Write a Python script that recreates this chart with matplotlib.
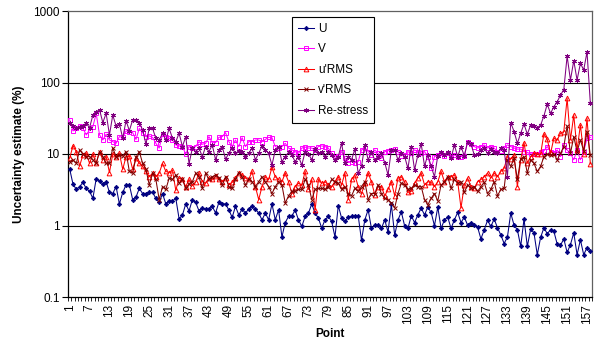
import numpy as np
import matplotlib
matplotlib.use("Agg")
import matplotlib.pyplot as plt
from matplotlib.ticker import FixedLocator, NullLocator, NullFormatter

plt.rcParams['font.family'] = ['Liberation Sans', 'DejaVu Sans']

# Uncertainty estimates (%) per measurement point
u_mean = [6.2, 3.8, 3.2, 3.5, 4.0, 3.3, 3.0, 2.4, 4.5, 4.2, 3.8, 4.1, 2.9, 2.8, 3.5, 2.0, 2.9, 3.7, 3.7, 2.3,
          2.5, 3.3, 2.8, 2.8, 2.9, 2.9, 2.4, 2.1, 2.8, 2.0, 2.2, 2.2, 2.4, 1.24, 1.4, 2.0, 1.6, 2.3, 2.1, 1.6,
          1.75, 1.7, 1.7, 1.85, 1.5, 2.1, 2.0, 2.0, 1.65, 1.3, 1.85, 1.4,
          1.7, 1.49, 1.7, 1.85, 1.7, 1.49, 1.2, 1.49, 1.2, 2.0, 1.2, 1.66, 0.69, 1.1, 1.34, 1.37, 1.63, 1.2,
          0.97, 1.34, 1.49, 2.0, 1.49, 1.27, 0.92, 1.2, 1.34, 1.14, 0.69, 1.9, 1.27, 1.14, 1.31, 1.34, 1.37, 1.37,
          0.62, 1.2, 1.66, 0.91, 1.01, 1.01, 0.91, 1.2, 0.81, 1.97, 0.73, 1.2,
          1.55, 0.99, 0.91, 1.37, 1.1, 1.41, 1.75, 1.41, 1.81, 1.52, 0.99, 1.81, 0.91, 1.2, 1.31, 0.91, 1.2, 1.52,
          1.1, 1.31, 1.01, 1.1, 1.01, 0.95, 0.65, 0.87, 1.18, 0.97, 1.23, 0.93, 0.74, 0.56, 0.69, 1.49, 1.01, 0.87,
          0.51, 1.23, 0.51, 0.89, 0.79, 0.39, 0.68, 0.93, 0.77, 0.87, 0.83, 0.55, 0.53, 0.65, 0.42, 0.54, 0.79, 0.39,
          0.63, 0.39, 0.49, 0.44]

v_mean = [29.9, 21.0, 22.8, 24.6, 22.8, 18.5, 21.7, 24.1, 37.0, 18.5, 15.7, 18.9, 15.7, 14.9, 14.1, 17.5, 17.1, 21.0,
          20.6, 19.9, 16.0, 22.8, 19.9, 17.5, 17.9, 17.1, 14.1, 12.1, 18.9, 17.5, 16.6, 15.7, 13.4, 13.0, 12.7, 10.0,
          12.7, 12.1, 12.7, 14.9, 13.7, 14.1, 17.5, 14.4, 14.4, 17.1, 17.5, 19.9, 14.9, 12.7, 15.7, 12.7,
          16.9, 12.7, 14.9, 14.9, 15.7, 15.7, 14.9, 16.0, 17.1, 16.9, 12.7, 12.1, 12.7, 14.1, 12.1, 11.4, 10.8, 10.2,
          12.1, 12.5, 12.1, 12.1, 11.4, 12.7, 13.0, 12.7, 12.1, 10.2, 9.0, 9.4, 10.8, 8.7, 7.6, 7.8, 7.6, 7.8,
          11.4, 12.1, 10.8, 9.7, 11.4, 10.2, 8.7, 10.8, 11.1, 11.4, 11.7, 10.8,
          9.4, 9.7, 10.8, 10.2, 11.4, 10.8, 10.2, 10.8, 9.2, 6.3, 9.2, 9.7, 10.2, 9.4, 10.2, 9.2, 9.7, 9.2,
          9.2, 9.4, 14.9, 13.8, 12.7, 12.1, 12.7, 13.4, 12.1, 12.7, 12.1, 10.8, 11.1, 12.1, 13.4, 12.7, 12.1, 11.7,
          11.7, 10.8, 10.5, 10.0, 10.0, 10.0, 10.8, 11.1, 12.7, 10.8, 10.2, 11.4, 9.2, 13.4, 11.4, 10.2, 8.3, 11.4,
          8.3, 10.8, 16.6, 17.1]

u_rms = [8.7, 13.1, 10.8, 6.8, 9.7, 10.2, 7.4, 10.0, 7.4, 10.8, 8.3, 9.2, 5.5, 10.0, 9.2, 10.2, 6.1, 9.2,
         9.4, 6.1, 8.7, 7.4, 6.7, 5.7, 4.8, 5.4, 4.8, 5.4, 7.4, 5.7, 5.5, 5.9, 3.1, 4.6, 4.4, 3.5, 4.4, 3.6,
         4.1, 5.4, 4.1, 3.9, 4.6, 4.4, 4.9, 4.4, 4.1, 4.6, 3.7, 4.0, 4.6, 5.5,
         5.1, 4.6, 4.4, 5.7, 3.5, 2.3, 3.5, 4.8, 4.4, 6.5, 4.8, 4.4, 4.1, 5.4, 4.1, 2.8, 3.5, 3.9, 3.7, 5.7,
         3.2, 4.4, 1.63, 4.4, 3.9, 4.1, 3.7, 3.5, 4.1, 4.8, 3.7, 5.4, 2.3, 4.4, 5.1, 3.5, 2.8, 3.9, 5.4, 4.1,
         2.7, 3.5, 3.5, 2.6, 3.2, 4.1, 2.6, 4.6,
         4.8, 4.1, 2.9, 3.0, 3.9, 4.6, 5.4, 3.7, 4.1, 4.0, 3.5, 4.1, 5.7, 4.1, 4.8, 4.8, 5.1, 4.1, 1.76, 3.7,
         4.6, 3.5, 3.3, 4.1, 4.4, 4.8, 5.4, 4.6, 5.4, 4.8, 5.7, 6.3, 9.2, 8.5, 9.7, 3.5, 8.3, 14.4, 7.4, 9.2,
         10.2, 10.0, 10.0, 19.1, 16.0, 10.2, 16.6, 15.7, 19.5, 20.6, 59.9, 15.7, 35.1, 11.4, 25.4, 10.0, 31.5, 7.3]

v_rms = [7.8, 8.3, 7.4, 11.4, 10.0, 9.2, 9.2, 8.3, 7.4, 10.8, 9.2, 7.4, 7.4, 12.1, 9.2, 9.7, 9.4, 10.8,
         5.7, 5.4, 9.0, 10.8, 7.4, 6.1, 3.7, 5.4, 4.4, 2.3, 3.5, 3.2, 4.6, 4.4, 5.1, 3.9, 4.4, 3.3, 3.8, 4.1,
         5.4, 4.8, 3.3, 5.4, 4.4, 4.8, 5.1, 4.6, 3.7, 4.8, 3.5, 3.3, 4.4, 5.5,
         4.8, 3.7, 4.4, 4.1, 3.5, 4.1, 4.8, 4.1, 3.5, 2.8, 3.5, 4.1, 3.7, 2.06, 2.6, 3.0, 3.0, 3.2, 3.2, 4.4,
         3.7, 2.3, 3.2, 3.3, 3.3, 3.2, 3.5, 4.4, 4.1, 3.9, 3.2, 3.5, 2.8, 2.6, 3.3, 3.0, 3.5, 4.1, 2.3, 2.8,
         2.8, 3.7, 2.8, 2.4, 2.3, 2.06, 1.76, 2.8,
         3.9, 3.7, 3.2, 3.3, 3.7, 3.5, 3.5, 2.3, 1.95, 2.4, 2.8, 2.2, 3.7, 4.0, 4.8, 3.3, 4.4, 3.9, 4.1, 2.9,
         3.7, 3.3, 3.5, 3.0, 3.5, 4.0, 2.8, 3.2, 4.1, 2.6, 3.2, 3.3, 8.3, 6.7, 8.7, 4.4, 8.5, 9.2, 5.4, 8.3,
         7.4, 5.7, 6.7, 9.2, 10.0, 9.7, 10.0, 8.3, 10.2, 12.7, 24.6, 10.2, 17.5, 10.8, 15.7, 11.1, 20.6, 9.7]

re_stress = [27.5, 24.6, 22.8, 24.1, 24.6, 26.9, 23.3, 35.0, 38.9, 41.7, 27.5, 37.0, 18.5, 35.0, 24.6, 26.3,
             16.6, 29.3, 21.2, 29.9, 29.9, 27.5, 21.7, 13.8, 22.8, 22.8, 16.6, 15.7, 19.5, 15.7, 22.8, 16.6,
             14.9, 19.5, 12.7, 17.5, 7.3, 12.1, 10.8, 12.1, 9.2, 12.7, 10.8, 13.4, 8.3, 11.4, 12.7, 8.5,
             10.2, 12.1, 10.2, 11.1,
             10.8, 9.2, 10.2, 12.1, 8.3, 10.2, 13.0, 11.4, 10.2, 7.0, 11.4, 12.7, 7.8, 9.2, 10.5, 9.7,
             7.8, 9.2, 7.0, 10.8, 10.0, 8.3, 11.7, 10.2, 10.5, 9.2, 10.8, 9.7, 8.3, 9.2, 14.1, 7.4,
             9.2, 8.3, 11.7, 5.4, 6.7, 13.4, 8.3, 10.5, 8.3, 9.2, 10.2, 7.6, 5.1, 11.4, 11.4, 8.3,
             10.2, 9.2, 6.3, 12.7, 6.0, 9.7, 13.8, 6.8, 9.7, 6.7, 4.8, 9.4, 10.8, 9.7, 10.8, 8.7,
             13.4, 9.2, 12.7, 9.4, 14.9, 13.8, 9.7, 10.0, 11.4, 12.1, 10.2, 11.7, 10.8, 10.2, 12.1, 11.4,
             4.8, 27.5, 20.6, 14.1, 19.5, 26.3, 18.9, 25.4, 24.6, 23.3, 25.4, 34.0, 49.8, 37.0, 45.8, 53.8,
             66.6, 79.8, 234.0, 108.0, 202.0, 108.0, 185.0, 150.0, 268.0, 51.0]

series_names = ["U", "V", "u'RMS", "v'RMS", "Re-stress"]
series_values = [u_mean, v_mean, u_rms, v_rms, re_stress]
series_colors = ["#000080", "#FF00FF", "#FF0000", "#800000", "#800080"]

x_tick_labels = [str(p) for p in range(1, 158, 6)]
y_tick_values = [0.1, 1, 10, 100, 1000]
y_tick_labels = ["0.1", "1", "10", "100", "1000"]

n_points = len(u_mean)
points = np.arange(1, n_points + 1)

fig = plt.figure(figsize=(5.95, 3.49), dpi=100)
ax = fig.add_axes([68 / 595, 1 - 297 / 349, 524 / 595, 286 / 349])

marker_styles = [
    dict(marker="D", markersize=2.3, markerfacecolor="#000080", markeredgewidth=0.5),
    dict(marker="s", markersize=3.0, markerfacecolor="none", markeredgewidth=0.7),
    dict(marker="^", markersize=3.4, markerfacecolor="none", markeredgewidth=0.7),
    dict(marker="x", markersize=3.0, markeredgewidth=0.7),
    dict(marker=(6, 2, 0), markersize=3.6, markeredgewidth=0.7),
]

for name, vals, col, mst in zip(series_names, series_values, series_colors, marker_styles):
    ax.plot(points, vals, color=col, linewidth=0.75, markeredgecolor=col, label=name, zorder=3, **mst)

ax.set_yscale("log")
ax.set_ylim(0.1, 1000)
ax.set_xlim(0.5, n_points + 0.5)

# gridlines at the decades
for gy in [1, 10, 100]:
    ax.axhline(gy, color="black", linewidth=0.8, zorder=1)

ax.yaxis.set_major_locator(FixedLocator(y_tick_values))
ax.set_yticklabels(y_tick_labels)
ax.yaxis.set_minor_locator(NullLocator())
ax.yaxis.set_minor_formatter(NullFormatter())
ax.tick_params(axis="y", which="major", direction="out", length=4, width=0.8, labelsize=8.5, pad=2)

label_positions = list(range(1, 158, 6))
ax.set_xticks(label_positions)
ax.set_xticklabels(x_tick_labels, rotation=90, fontsize=8.5)
ax.set_xticks(np.arange(0.5, n_points + 1, 1), minor=True)
ax.tick_params(axis="x", which="major", length=0, pad=5)
ax.tick_params(axis="x", which="minor", direction="out", length=3, width=0.6)

for side in ["left", "bottom"]:
    ax.spines[side].set_color("black")
    ax.spines[side].set_linewidth(0.9)
for side in ["top", "right"]:
    ax.spines[side].set_color("#606060")
    ax.spines[side].set_linewidth(0.9)

ax.set_ylabel("Uncertainty estimate (%)", fontsize=8.5, fontweight="bold", labelpad=6)
ax.set_xlabel("Point", fontsize=8.5, fontweight="bold", labelpad=3)

leg = ax.legend(loc="upper left", bbox_to_anchor=(0.4275, 0.979), fontsize=8.5,
                frameon=True, fancybox=False, framealpha=1, edgecolor="black",
                handlelength=1.4, handletextpad=0.3, labelspacing=0.72, borderpad=0.5,
                borderaxespad=0)
leg.get_frame().set_linewidth(0.8)
leg.set_zorder(5)

fig.savefig("out.png", dpi=100)
